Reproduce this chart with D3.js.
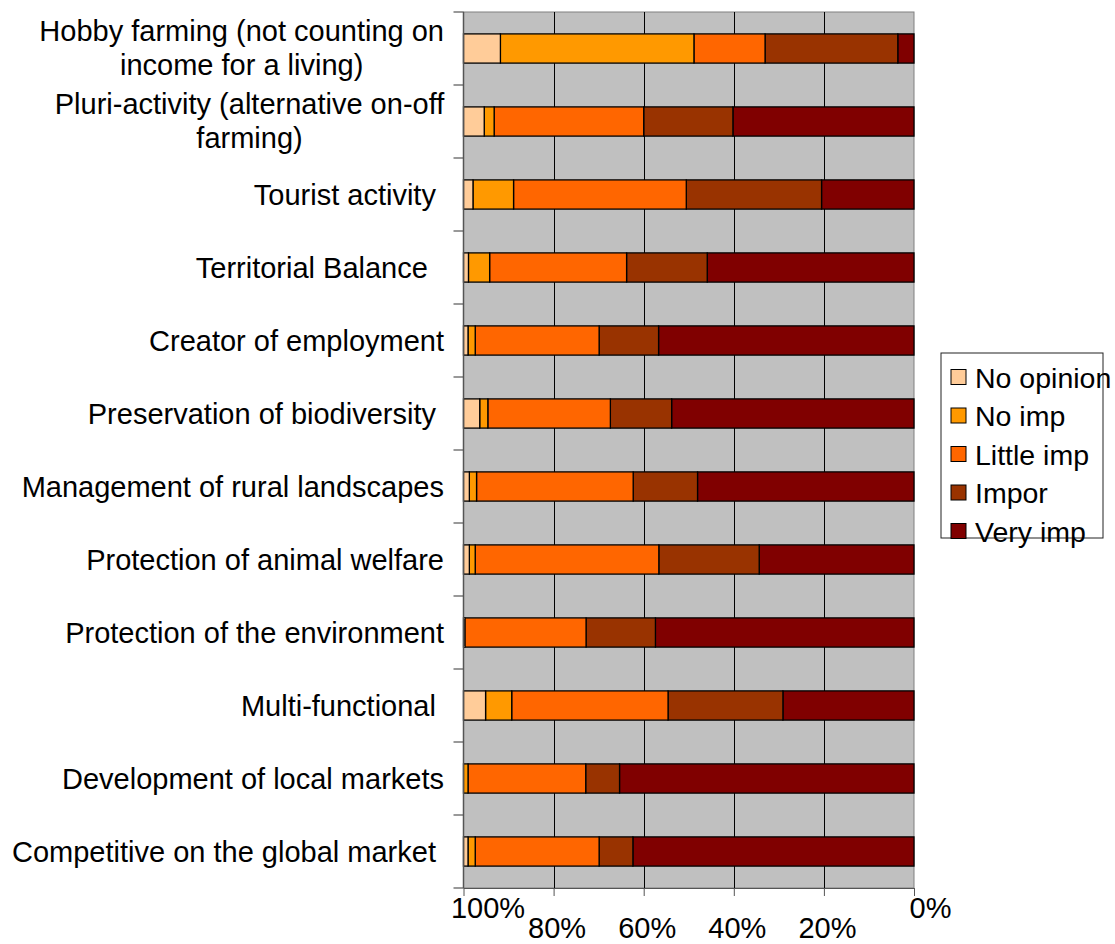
<!DOCTYPE html>
<html>
<head>
<meta charset="utf-8">
<script src="https://cdn.jsdelivr.net/npm/d3@7"></script>
<style>
  body { margin: 0; background: #fff; }
  text { font-family: "Liberation Sans", Arial, sans-serif; fill: #000; white-space: pre; }
</style>
</head>
<body>
<div id="chart"></div>
<script>
// categories, top to bottom ("\n" = line break in label)
let categories = [
  "Hobby farming (not counting on\nincome for a living)",
  "Pluri-activity (alternative on-off\nfarming)",
  "Tourist activity ",
  "Territorial Balance  ",
  "Creator of employment",
  "Preservation of biodiversity ",
  "Management of rural landscapes",
  "Protection of animal welfare",
  "Protection of the environment",
  "Multi-functional ",
  "Development of local markets",
  "Competitive on the global market "
];

// percentages
let noOpinion = [8.2, 4.6, 2.1, 1.1, 1.0, 3.6, 1.3, 1.3, 0.3, 4.9, 0.0, 1.0];
let noImp     = [43.0, 2.2, 9.0, 4.7, 1.6, 1.8, 1.6, 1.3, 0.0, 5.8, 1.0, 1.6];
let littleImp = [15.8, 33.2, 38.3, 30.4, 27.5, 27.2, 34.8, 40.8, 26.9, 34.7, 26.1, 27.5];
let impor     = [29.5, 19.8, 30.0, 17.9, 13.2, 13.6, 14.3, 22.3, 15.4, 25.5, 7.5, 7.5];
let veryImp   = [3.6, 40.2, 20.5, 45.9, 56.7, 53.8, 48.1, 34.4, 57.4, 29.1, 65.3, 62.4];

let seriesNames = ["No opinion", "No imp", "Little imp", "Impor", "Very imp"];
let seriesColors = ["#FFCC99", "#FF9900", "#FF6600", "#993300", "#800000"];
let xTicks = [0, 0.2, 0.4, 0.6, 0.8, 1];

let rows = categories.map((c, i) => ({
  cat: c,
  "No opinion": noOpinion[i],
  "No imp": noImp[i],
  "Little imp": littleImp[i],
  "Impor": impor[i],
  "Very imp": veryImp[i]
}));

// stack from the right (0%) towards the left (100%)
let stackKeys = seriesNames.slice().reverse();
let stacked = d3.stack().keys(stackKeys).offset(d3.stackOffsetExpand)(rows);
let color = d3.scaleOrdinal().domain(seriesNames).range(seriesColors);

let W = 1115, H = 944;
let plot = {left: 463.5, right: 914, top: 12, bottom: 888};
let fontSize = 29;

let svg = d3.select('#chart').append('svg')
  .attr('width', W).attr('height', H);

let x = d3.scaleLinear().domain([1, 0]).range([plot.left, plot.right]);
let y = d3.scaleBand().domain(categories).range([plot.top, plot.bottom])
  .paddingInner(0.6).paddingOuter(0.3);

// plot background
svg.append('rect')
  .attr('x', plot.left).attr('y', plot.top)
  .attr('width', plot.right - plot.left).attr('height', plot.bottom - plot.top)
  .attr('fill', '#C0C0C0').attr('stroke', '#808080').attr('stroke-width', 1);

// vertical gridlines
svg.append('g').selectAll('line')
  .data(xTicks.filter(t => t > 0 && t < 1))
  .join('line')
  .attr('x1', d => Math.round(x(d)) + 0.5).attr('x2', d => Math.round(x(d)) + 0.5)
  .attr('y1', plot.top).attr('y2', plot.bottom)
  .attr('stroke', '#000').attr('stroke-width', 1);

// bars
svg.append('g').selectAll('g')
  .data(stacked)
  .join('g')
  .attr('fill', d => color(d.key))
  .selectAll('rect')
  .data(d => d)
  .join('rect')
  .attr('x', d => x(d[1]))
  .attr('width', d => x(d[0]) - x(d[1]))
  .attr('y', d => y(d.data.cat))
  .attr('height', y.bandwidth())
  .attr('stroke', '#000').attr('stroke-width', 1.3);

// left axis line + ticks at band boundaries
let step = y.step();
let yBounds = d3.range(categories.length + 1).map(i => plot.top + i * step);
svg.append('line')
  .attr('x1', plot.left).attr('x2', plot.left)
  .attr('y1', plot.top).attr('y2', plot.bottom)
  .attr('stroke', '#555').attr('stroke-width', 1.5);
svg.append('g').selectAll('line')
  .data(yBounds)
  .join('line')
  .attr('x1', plot.left - 10).attr('x2', plot.left)
  .attr('y1', d => d).attr('y2', d => d)
  .attr('stroke', '#555').attr('stroke-width', 1.2);

// category labels
let labelRight = 444;
let labels = svg.append('g').selectAll('text')
  .data(categories)
  .join('text')
  .attr('font-size', fontSize);
labels.each(function(c) {
  let t = d3.select(this);
  let lines = c.split('\n');
  let cy = y(c) + y.bandwidth() / 2;
  if (lines.length == 1) {
    t.attr('text-anchor', 'end').attr('x', labelRight).attr('y', cy + 10.5).text(c);
  } else {
    let spans = t.selectAll('tspan').data(lines).join('tspan').text(d => d);
    let maxW = 0;
    spans.each(function() { maxW = Math.max(maxW, this.getComputedTextLength()); });
    t.attr('text-anchor', 'middle');
    spans.attr('x', labelRight - maxW / 2)
      .attr('y', (d, i) => cy - 8 + i * 34);
  }
});

// bottom axis
let xAxis = svg.append('g')
  .attr('transform', `translate(0,${plot.bottom})`)
  .call(d3.axisBottom(x).tickValues(xTicks).tickFormat(d3.format('.0%')).tickSize(8).tickSizeOuter(0));
xAxis.select('.domain').attr('stroke', '#555');
xAxis.selectAll('.tick line').attr('stroke', '#555');
xAxis.selectAll('.tick text')
  .attr('font-size', fontSize)
  .attr('font-family', '"Liberation Sans", Arial, sans-serif')
  .attr('fill', '#000')
  .attr('dy', null)
  .attr('y', d => (d == 0 || d == 1) ? 30 : 50)
  .attr('dx', d => d == 1 ? 24 : d == 0 ? 16 : 3);

// legend
let legend = svg.append('g');
legend.append('rect')
  .attr('x', 941).attr('y', 353).attr('width', 162).attr('height', 185)
  .attr('fill', '#fff').attr('stroke', '#222').attr('stroke-width', 1);
let items = legend.selectAll('g.item')
  .data(seriesNames)
  .join('g')
  .attr('class', 'item')
  .attr('transform', (d, i) => `translate(951,${377 + i * 38.5})`);
items.append('rect')
  .attr('x', 0).attr('y', -7.5).attr('width', 15).attr('height', 15)
  .attr('fill', d => color(d)).attr('stroke', '#000').attr('stroke-width', 1);
items.append('text')
  .attr('x', 24).attr('y', 10.5)
  .attr('font-size', fontSize - 0.5)
  .text(d => d);
</script>
</body>
</html>
